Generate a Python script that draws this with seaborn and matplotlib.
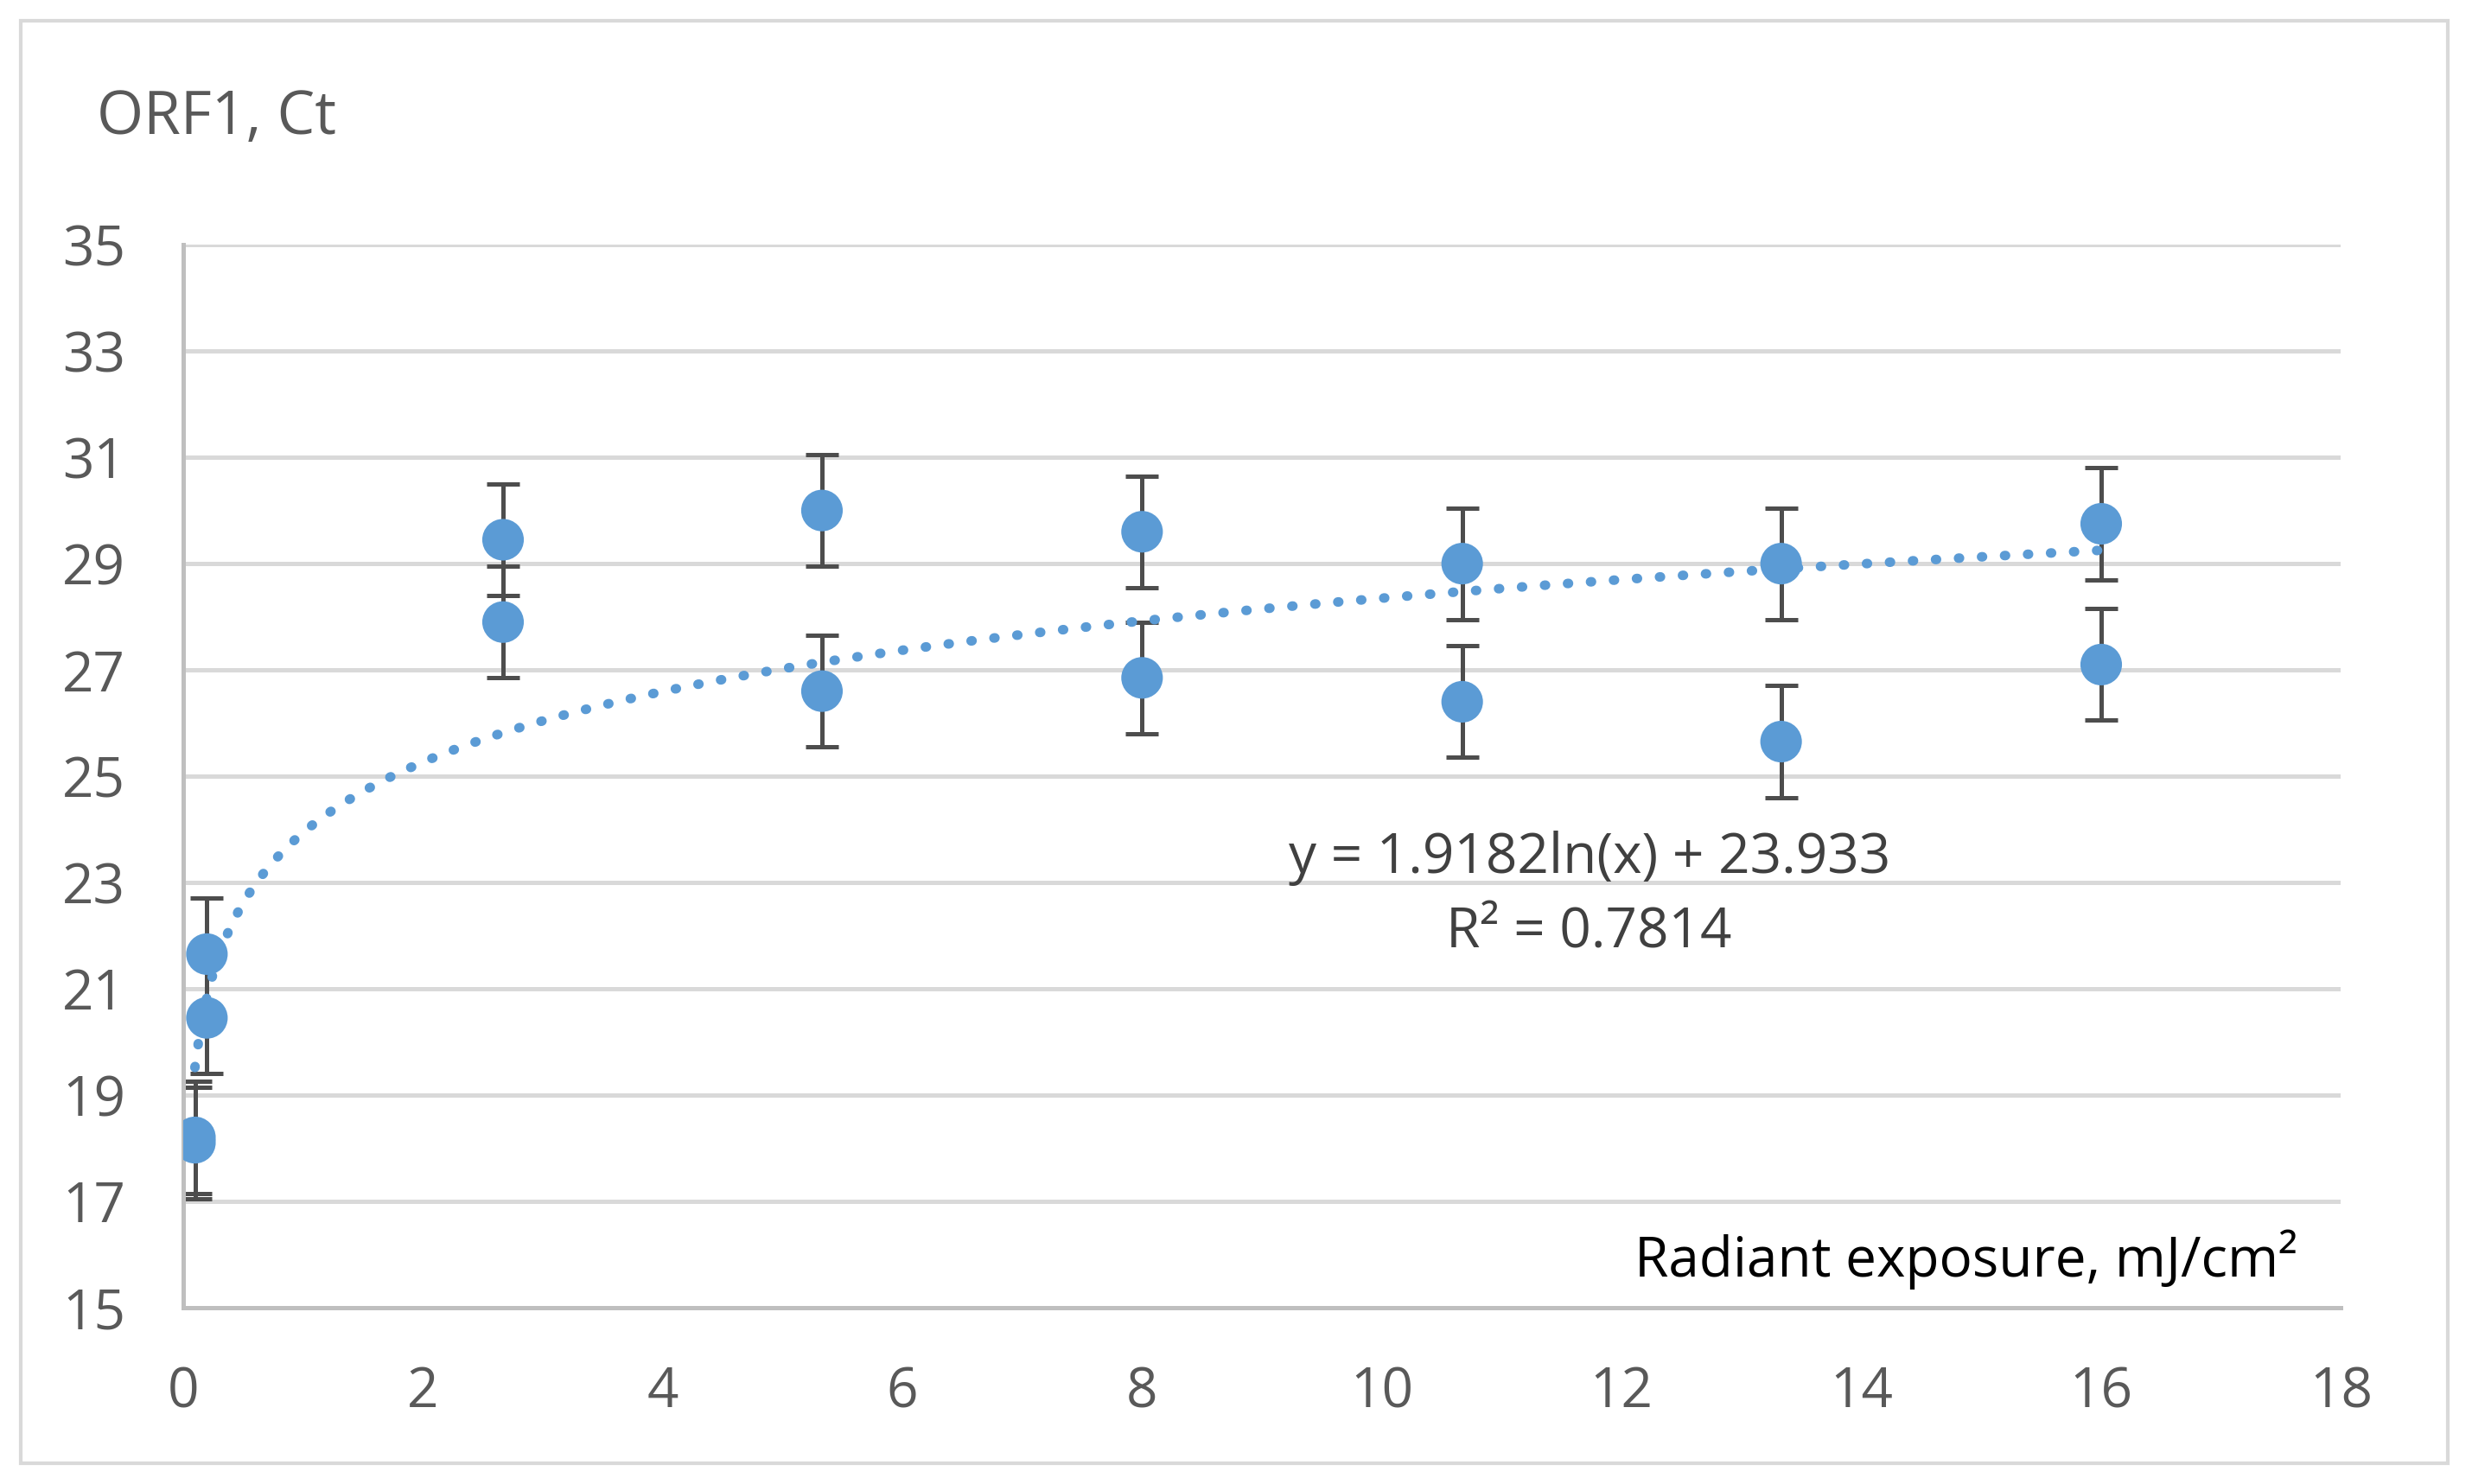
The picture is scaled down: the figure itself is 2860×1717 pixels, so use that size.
import numpy as np
import pandas as pd
import matplotlib.pyplot as plt
import matplotlib.patches as patches
import seaborn as sns

# Data
exposure = [0.1, 0.1, 0.2, 0.2, 2.67, 2.67, 5.33, 5.33, 8.0, 8.0, 10.67, 10.67, 13.33, 13.33, 16.0, 16.0]
ct_values = [18.1, 18.2, 21.65, 20.45, 29.45, 27.9, 30.0, 26.6, 29.6, 26.85, 29.0, 26.4, 29.0, 25.65, 29.75, 27.1]
ct_error = [1.05, 1.05, 1.05, 1.05, 1.05, 1.05, 1.05, 1.05, 1.05, 1.05, 1.05, 1.05, 1.05, 1.05, 1.05, 1.05]

# Logarithmic trendline shown on the chart
trend_slope = 1.9182
trend_intercept = 23.933
r_squared = 0.7814

y_ticks = [15, 17, 19, 21, 23, 25, 27, 29, 31, 33, 35]
x_ticks = [0, 2, 4, 6, 8, 10, 12, 14, 16, 18]

df = pd.DataFrame({'exposure': exposure, 'ct': ct_values, 'err': ct_error})

sns.set_style('white')
plt.rcParams['font.family'] = ['Liberation Sans Narrow', 'Open Sans', 'DejaVu Sans']

blue = '#5B9BD5'
grey_text = '#595959'
grid_col = '#D9D9D9'

fig = plt.figure(figsize=(14.3, 8.585), dpi=200)
ax = fig.add_axes([0.074, 0.119, 0.873, 0.716])

# Error bars
ax.errorbar(df['exposure'], df['ct'], yerr=df['err'], fmt='none',
            ecolor='#4D4D4D', elinewidth=1.8, capsize=7, capthick=1.8, zorder=2)

# Points
sns.scatterplot(data=df, x='exposure', y='ct', ax=ax, color=blue, s=300,
                edgecolor='none', zorder=3, legend=False)

# Trendline
trend_x = np.linspace(min(exposure), max(exposure), 400)
trend = pd.DataFrame({'x': trend_x, 'y': trend_slope * np.log(trend_x) + trend_intercept})
sns.lineplot(data=trend, x='x', y='y', ax=ax, color=blue, linewidth=4,
             linestyle=(0, (0.1, 2.3)), zorder=4)
ax.lines[-1].set_dash_capstyle('round')

ax.set_xlim(0, 18)
ax.set_ylim(15, 35)
ax.set_xticks(x_ticks)
ax.set_yticks(y_ticks)
ax.tick_params(axis='both', length=0, labelsize=23, labelcolor=grey_text, pad=24)
ax.set_xlabel('')
ax.set_ylabel('')

ax.yaxis.grid(True, color=grid_col, linewidth=1.8)
ax.xaxis.grid(False)
ax.set_axisbelow(True)
for side in ['top', 'right']:
    ax.spines[side].set_visible(False)
ax.spines['left'].set_color('#BFBFBF')
ax.spines['left'].set_linewidth(1.8)
ax.spines['bottom'].set_color('#BFBFBF')
ax.spines['bottom'].set_linewidth(1.8)

# Equation and R²
ax.text(11.73, 23.45, f'y = {trend_slope}ln(x) + {trend_intercept}', ha='center', va='center',
        fontsize=23, color='#404040')
ax.text(11.73, 22.05, f'R² = {r_squared}', ha='center', va='center',
        fontsize=23, color='#404040')

# Axis titles
ax.text(17.64, 15.9, 'Radiant exposure, mJ/cm²', ha='right', va='center', fontsize=23, color='black')
fig.text(0.039, 0.92, 'ORF1, Ct', ha='left', va='center', fontsize=25, color=grey_text)

# Outer chart border
fig.patches.append(patches.Rectangle((0.0083, 0.0138), 0.982, 0.972, transform=fig.transFigure,
                                     fill=False, edgecolor=grid_col, linewidth=1.5))

fig.savefig('out.png', dpi=200)
